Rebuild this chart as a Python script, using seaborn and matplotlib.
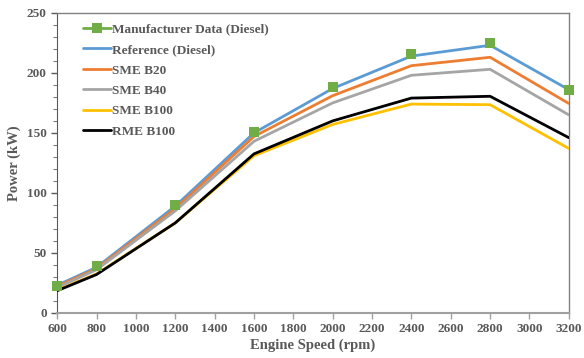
import pandas as pd
import matplotlib.pyplot as plt
import seaborn as sns
from matplotlib.ticker import MultipleLocator

sns.set_style("ticks")
plt.rcParams['font.family'] = ['Liberation Serif', 'DejaVu Serif']
plt.rcParams['font.weight'] = 'bold'

# Data
speed = [600, 800, 1200, 1600, 2000, 2400, 2800, 3200]
manufacturer = [22.5, 39, 90, 151, 188, 215.5, 224.5, 186]
reference = [23, 38, 89, 150, 187, 214, 223, 186]
sme_b20 = [22, 37, 87, 147, 181, 206, 213, 174.5]
sme_b40 = [21, 36, 85, 143, 175, 198, 203, 165]
sme_b100 = [19, 32.5, 75, 131, 157, 174, 173.5, 137]
rme_b100 = [18.5, 32, 75, 132.5, 160, 179, 180.5, 146]

series = [
    ("Manufacturer Data (Diesel)", manufacturer, "#70AD47"),
    ("Reference (Diesel)", reference, "#5B9BD5"),
    ("SME B20", sme_b20, "#ED7D31"),
    ("SME B40", sme_b40, "#A5A5A5"),
    ("SME B100", sme_b100, "#FFC000"),
    ("RME B100", rme_b100, "#000000"),
]

fig, ax = plt.subplots(figsize=(5.84, 3.58), dpi=100)
fig.subplots_adjust(left=0.098, right=0.974, bottom=0.126, top=0.964)

for i, (name, vals, color) in enumerate(series):
    df = pd.DataFrame({'speed': speed, 'power': vals})
    if i == 0:
        # markers only in the plot (line hidden under the reference curve)
        sns.lineplot(data=df, x='speed', y='power', ax=ax, color=color, lw=2,
                     linestyle='none', marker='s', markersize=7, markeredgewidth=0,
                     label=name, zorder=10, clip_on=False)
    else:
        sns.lineplot(data=df, x='speed', y='power', ax=ax, color=color, lw=2,
                     label=name, zorder=2 + i)

ax.set_xlim(600, 3200)
ax.set_ylim(0, 250)
ax.xaxis.set_major_locator(MultipleLocator(200))
ax.yaxis.set_major_locator(MultipleLocator(50))
ax.yaxis.set_minor_locator(MultipleLocator(10))

txt = "#595959"
ax.tick_params(axis='both', labelsize=9.5, colors=txt, length=4, width=1)
ax.tick_params(axis='y', which='minor', length=3, color=txt)
for lbl in ax.get_xticklabels() + ax.get_yticklabels():
    lbl.set_fontweight('bold')
ax.tick_params(axis='x', color="#a0a0a0")

for s in ['top', 'right']:
    ax.spines[s].set_visible(True)
    ax.spines[s].set_color("#808080")
    ax.spines[s].set_linewidth(1)
ax.spines['left'].set_color(txt)
ax.spines['bottom'].set_color("#a0a0a0")
ax.spines['bottom'].set_linewidth(1.5)

ax.set_xlabel("Engine Speed (rpm)", fontsize=10.5, fontweight='bold', color=txt, labelpad=2)
ax.set_ylabel("Power (kW)", fontsize=10.5, fontweight='bold', color=txt, labelpad=4)

leg = ax.legend(loc='upper left', frameon=False, fontsize=9.5, handlelength=2.1,
                handletextpad=0.1, labelspacing=0.62, borderaxespad=0.4,
                bbox_to_anchor=(0.03, 1.0))
leg.legend_handles[0].set_linestyle('-')
leg.legend_handles[0].set_linewidth(2)
for t in leg.get_texts():
    t.set_color(txt)
    t.set_fontweight('bold')

fig.savefig('out.png', dpi=100)
